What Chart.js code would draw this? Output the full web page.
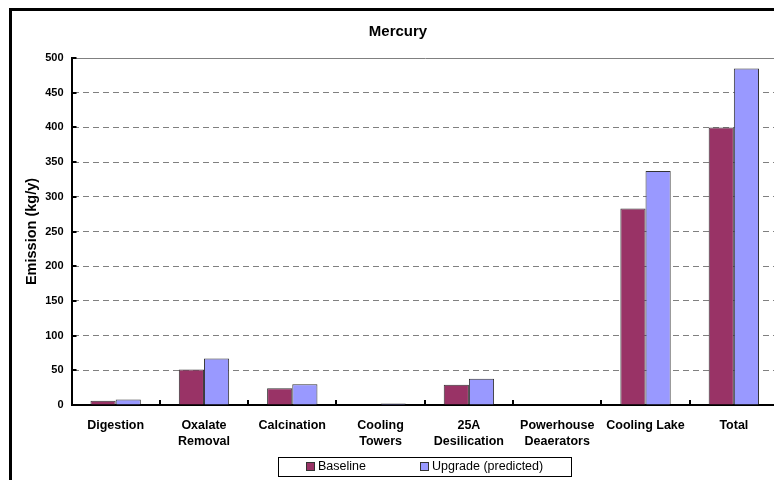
<!DOCTYPE html>
<html>
<head>
<meta charset="utf-8">
<title>Mercury</title>
<script src="https://cdn.jsdelivr.net/npm/chart.js@4/dist/chart.umd.min.js"></script>
<style>
  html, body { margin: 0; padding: 0; background: #fff; overflow: hidden; }
  #wrap { position: relative; width: 774px; height: 480px; overflow: hidden; }
  #frame { position: absolute; left: 9px; top: 8px; width: 900px; height: 600px;
           border-left: 3px solid #000; border-top: 3px solid #000; pointer-events: none; }
  canvas { position: absolute; left: 0; top: 0; }
</style>
</head>
<body>
<div id="wrap">
  <canvas id="chart" width="796" height="480"></canvas>
  <div id="frame"></div>
</div>
<script>
// Mercury emissions by process area (kg/y)
const categories = [
  'Digestion',
  ['Oxalate', 'Removal'],
  'Calcination',
  ['Cooling', 'Towers'],
  ['25A', 'Desilication'],
  ['Powerhouse', 'Deaerators'],
  'Cooling Lake',
  'Total'
];
const baseline = [6, 51, 24, 0, 29, 0, 283, 400];
const upgrade  = [8, 67, 30, 2, 38, 0, 337, 485];
const seriesNames = ['Baseline', 'Upgrade (predicted)'];
const yMin = 0, yMax = 500, yStep = 50;

const FONT = '"Liberation Sans", Arial, sans-serif';

// Short tick marks that point into the plot area, plus the boxed legend
const decorations = {
  id: 'decorations',
  afterDraw(chart) {
    const { ctx, chartArea } = chart;
    const xs = chart.scales.x, ys = chart.scales.y;
    ctx.save();
    ctx.strokeStyle = '#000';
    ctx.lineWidth = 2;
    ctx.beginPath();
    ys.ticks.forEach(t => {
      const y = Math.round(ys.getPixelForValue(t.value));
      ctx.moveTo(chartArea.left, y);
      ctx.lineTo(chartArea.left + 5, y);
    });
    const half = (xs.getPixelForValue(1) - xs.getPixelForValue(0)) / 2;
    for (let i = 0; i < categories.length; i++) {
      const x = Math.round(xs.getPixelForValue(i) + half);
      ctx.moveTo(x, chartArea.bottom);
      ctx.lineTo(x, chartArea.bottom - 5);
    }
    ctx.stroke();

    // legend box
    const boxL = 278.5, boxT = 457.5, boxW = 293, boxH = 19;
    ctx.lineWidth = 1;
    ctx.strokeStyle = '#000';
    ctx.strokeRect(boxL, boxT, boxW, boxH);
    ctx.font = '12.5px ' + FONT;
    ctx.textBaseline = 'middle';
    ctx.fillStyle = '#000';
    const itemX = [306, 420];
    chart.data.datasets.forEach((ds, i) => {
      const mx = itemX[i];
      ctx.fillStyle = ds.backgroundColor;
      ctx.fillRect(mx, 462, 8, 8);
      ctx.strokeStyle = '#333';
      ctx.strokeRect(mx + 0.5, 462.5, 8, 8);
      ctx.fillStyle = '#000';
      ctx.fillText(ds.label, mx + 12, 467);
    });
    ctx.restore();
  }
};

new Chart(document.getElementById('chart'), {
  type: 'bar',
  data: {
    labels: categories,
    datasets: [
      { label: seriesNames[0], data: baseline, backgroundColor: '#993366',
        borderColor: '#333333', borderWidth: 1 },
      { label: seriesNames[1], data: upgrade, backgroundColor: '#9999FF',
        borderColor: '#333333', borderWidth: 1 }
    ]
  },
  options: {
    responsive: false,
    animation: false,
    layout: { padding: { left: 18, right: 18, top: 0, bottom: 0 } },
    datasets: { bar: { categoryPercentage: 0.57, barPercentage: 1.0 } },
    plugins: {
      legend: { display: false },
      tooltip: { enabled: false },
      title: {
        display: true,
        text: 'Mercury',
        color: '#000',
        font: { family: FONT, size: 15, weight: 'bold' },
        padding: { top: 23, bottom: 17 }
      }
    },
    scales: {
      x: {
        grid: { display: false },
        border: { display: true, color: '#000', width: 2 },
        ticks: {
          color: '#000',
          padding: 4,
          maxRotation: 0,
          autoSkip: false,
          font: { family: FONT, size: 12.5, weight: 'bold', lineHeight: 1.3 }
        },
        afterFit(s) { s.height = 75; }
      },
      y: {
        min: yMin, max: yMax,
        border: {
          display: true, color: '#000', width: 2,
          dash: ctx => (ctx.tick && ctx.tick.value === yMax) ? [] : [6, 4]
        },
        grid: {
          color: ctx => (ctx.tick && ctx.tick.value === yMin) ? 'rgba(0,0,0,0)' : '#808080',
          lineWidth: 1,
          drawTicks: false
        },
        ticks: {
          stepSize: yStep,
          color: '#000',
          padding: 8,
          font: { family: FONT, size: 11, weight: 'bold' }
        },
        title: {
          display: true,
          text: 'Emission (kg/y)',
          color: '#000',
          font: { family: FONT, size: 14.5, weight: 'bold' },
          padding: { top: 5, bottom: 0 }
        },
        afterFit(s) { s.width = 53.5; }
      }
    }
  },
  plugins: [decorations]
});
</script>
</body>
</html>
